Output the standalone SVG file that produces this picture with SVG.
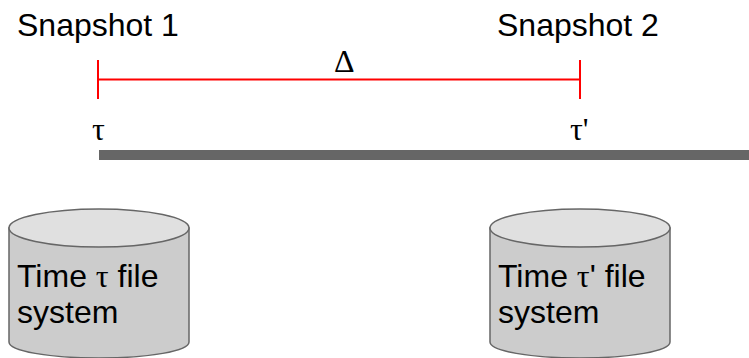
<svg xmlns="http://www.w3.org/2000/svg" width="749" height="358" viewBox="0 0 749 358">
<style>
.s{font-family:"Liberation Sans",Arial,sans-serif;font-size:32px;fill:#000}
.g{font-family:"Liberation Serif","Times New Roman",serif}
.t{font-size:32px;fill:#000}
.r{stroke:#ff0000;stroke-width:2;fill:none}
.body{fill:#cccccc;stroke:#666666;stroke-width:1.5}
.top{fill:#e0e0e0;stroke:#666666;stroke-width:1.5}
</style>
<rect width="749" height="358" fill="#fff"/>
<g id="connectors">
<path class="r" d="M98 60V99M98 79.500H580M580 60V99"/>
<rect x="99" y="150" width="650" height="10" fill="#666666"/>
</g>
<g id="snapshot1"><text class="s" x="17" y="36">Snapshot 1</text></g>
<g id="snapshot2"><text class="s" x="497" y="36">Snapshot 2</text></g>
<g id="delta"><text class="g t" x="334" y="72">Δ</text></g>
<g id="tau"><text class="g t" x="92" y="140">τ</text></g>
<g id="tau-prime"><text class="g t" x="570" y="140">τ'</text></g>
<g id="fs1">
<path class="body" d="M9 228V342C9 351 49 358 99 358S189 351 189 342V228Z"/>
<ellipse class="top" cx="99" cy="228" rx="90" ry="19"/>
<text class="s" x="17" y="287">Time <tspan class="g">τ</tspan> file</text>
<text class="s" x="17" y="323">system</text>
</g>
<g id="fs2">
<path class="body" d="M490 228V342C490 351 530 358 580 358S670 351 670 342V228Z"/>
<ellipse class="top" cx="580" cy="228" rx="90" ry="19"/>
<text class="s" x="498" y="287">Time <tspan class="g">τ</tspan>' file</text>
<text class="s" x="498" y="323">system</text>
</g>
</svg>
